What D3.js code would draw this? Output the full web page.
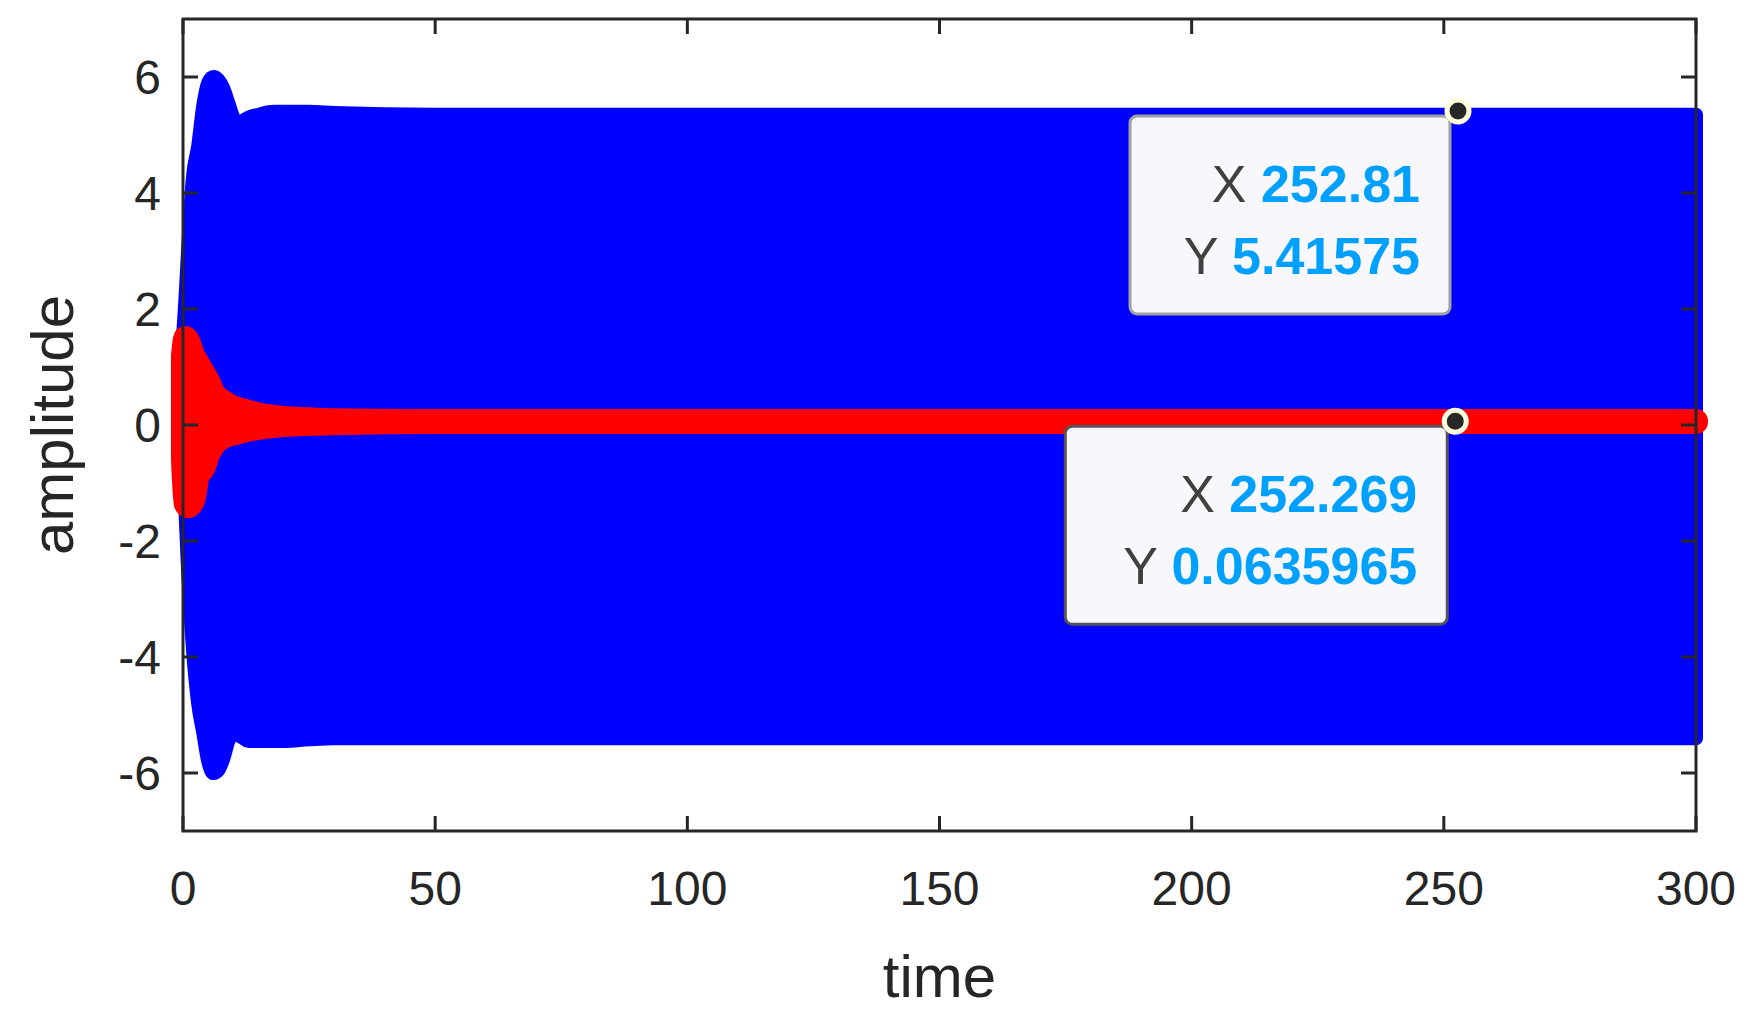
<!DOCTYPE html>
<html><head><meta charset="utf-8">
<script src="https://cdn.jsdelivr.net/npm/d3@7"></script>
<style>body{margin:0;background:#fff}svg{display:block}text{font-family:Arial,"Liberation Sans",sans-serif}</style>
</head><body><svg id="c" width="1761" height="1022"></svg>
<script>
// envelope samples
const blueTimes = [0,0.5,1,2,3,4,5,6,7,8,9,10,11,12,13,15,18,20,25,30,50,100,150,200,250,300];
const blueUpper = [1.5,2.2,3.0,4.3,4.8,5.5,5.9,6.0,5.95,5.8,5.55,5.3,5.2,5.25,5.3,5.35,5.4,5.4,5.4,5.38,5.35,5.35,5.35,5.35,5.35,5.35];
const blueLower = [-0.5,-1.5,-2.5,-3.9,-4.8,-5.3,-5.8,-6.0,-5.95,-5.75,-5.45,-5.3,-5.35,-5.4,-5.45,-5.45,-5.45,-5.45,-5.42,-5.4,-5.4,-5.4,-5.4,-5.4,-5.4,-5.4];
const redTimes = [0,0.5,1,2,3,4,5,6,8,10,12,15,20,25,30,50,100,150,200,250,300];
const redUpper = [1.2,1.5,1.45,1.2,1.05,0.9,0.75,0.55,0.4,0.3,0.25,0.18,0.12,0.1,0.08,0.07,0.07,0.07,0.07,0.07,0.07];
const redLower = [-0.6,-1.35,-1.4,-1.3,-0.85,-0.75,-0.5,-0.35,-0.2,-0.15,-0.1,-0.05,0,0.02,0.03,0.05,0.05,0.05,0.05,0.05,0.05];
const xTicks = [0,50,100,150,200,250,300];
const yTicks = [-6,-4,-2,0,2,4,6];
const tips = [{x:252.81,y:5.41575,label:["252.81","5.41575"],dx:-328,dy:5,w:320,h:198,stroke:"#a0a0a0"},
              {x:252.269,y:0.0635965,label:["252.269","0.0635965"],dx:-390,dy:5,w:382,h:198,stroke:"#555"}];

const L=183,R=1704,T=19,B=831;
const svg=d3.select("#c");
const x=d3.scaleLinear().domain([0,300]).range([L,R-8]);
const y=d3.scaleLinear().domain([-7,7]).range([B,T]);
const g=svg.append("g");
function band(times,up,lo,color,sw){
  const data=times.map((t,i)=>({t,u:up[i],l:lo[i]}));
  const area=d3.area().x(d=>x(d.t)).y0(d=>y(d.l)).y1(d=>y(d.u)).curve(d3.curveMonotoneX);
  g.append("path").datum(data).attr("d",area).attr("fill",color).attr("stroke",color)
   .attr("stroke-width",sw).attr("stroke-linejoin","round");
}
band(blueTimes,blueUpper,blueLower,"#0000ff",14);
band(redTimes,redUpper,redLower,"#ff0000",24);

// axes
const ax=svg.append("g").attr("stroke","#262626").attr("stroke-width",3).attr("fill","none");
ax.append("rect").attr("x",L).attr("y",T).attr("width",x(300)-L).attr("height",B-T);
const tl=15;
xTicks.forEach(v=>{ax.append("line").attr("x1",x(v)).attr("x2",x(v)).attr("y1",B).attr("y2",B-tl);
  ax.append("line").attr("x1",x(v)).attr("x2",x(v)).attr("y1",T).attr("y2",T+tl);});
yTicks.forEach(v=>{ax.append("line").attr("y1",y(v)).attr("y2",y(v)).attr("x1",L).attr("x2",L+tl);
  ax.append("line").attr("y1",y(v)).attr("y2",y(v)).attr("x1",x(300)).attr("x2",x(300)-tl);});
svg.append("g").selectAll("text").data(xTicks).join("text").attr("x",d=>x(d)).attr("y",B+74)
  .attr("text-anchor","middle").attr("font-size",48).attr("fill","#262626").text(d=>d);
svg.append("g").selectAll("text").data(yTicks).join("text").attr("x",L-22).attr("y",d=>y(d)+17)
  .attr("text-anchor","end").attr("font-size",48).attr("fill","#262626").text(d=>d);
svg.append("text").attr("x",(L+x(300))/2).attr("y",B+166).attr("text-anchor","middle").attr("font-size",60).attr("fill","#262626").text("time");
svg.append("text").attr("transform",`translate(${L-110},${(T+B)/2}) rotate(-90)`).attr("text-anchor","middle").attr("font-size",60).attr("fill","#262626").text("amplitude");

// datatips
tips.forEach(t=>{
  const px=x(t.x),py=y(t.y);
  const bx=px+t.dx,by=py+t.dy;
  svg.append("rect").attr("x",bx).attr("y",by).attr("width",t.w).attr("height",t.h).attr("rx",7)
    .attr("fill","#f8f8fc").attr("stroke",t.stroke).attr("stroke-width",3);
  const tx=bx+t.w-30;
  ["X","Y"].forEach((k,i)=>{
    const te=svg.append("text").attr("x",tx).attr("y",by+86+i*72).attr("text-anchor","end").attr("font-size",52);
    te.append("tspan").attr("fill","#404040").text(k+" ");
    te.append("tspan").attr("fill","#00a0ff").attr("font-weight","bold").text(t.label[i]);
  });
  svg.append("circle").attr("cx",px).attr("cy",py).attr("r",11).attr("fill","#262626").attr("stroke","#ffffe0").attr("stroke-width",5);
});
</script></body></html>
